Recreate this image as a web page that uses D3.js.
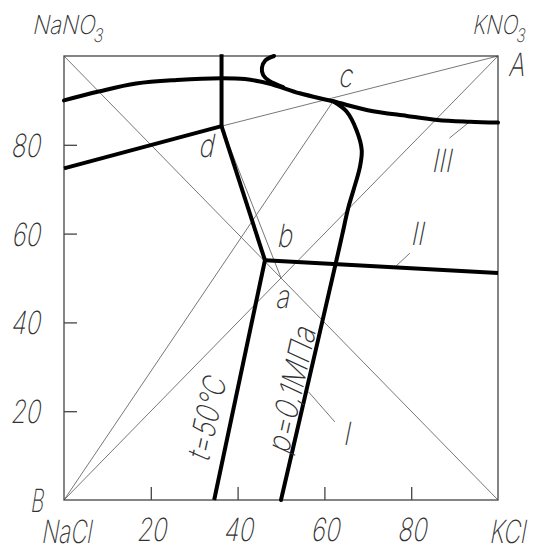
<!DOCTYPE html>
<html><head><meta charset="utf-8">
<script src="https://cdn.jsdelivr.net/npm/d3@7"></script>
<style>body{margin:0;background:#fff}svg{display:block}</style>
</head><body>
<svg id="chart" width="534" height="551"></svg>
<script>
// ---- data (composition %, KCl along x, KNO3 along y) ----
const xTicks = [20, 40, 60, 80];
const yTicks = [20, 40, 60, 80];
const upperCurve = [[0,90],[8,92],[16.6,93.8],[26,94.6],[36.3,95],[41.7,94.8],[47.2,93.8],[54.3,91.6],[62,89.8],[70,87.8],[79,86.5],[86,85.6],[93.5,85.2],[100,85]];
const hookCurve = [[48.4,100],[46.4,99],[45.6,97.3],[45.9,95.7],[47.3,94.4],[50.5,93]];
const verticalLine = [[36.3,100.4],[36.3,84.2]];
const leftLine = [[0,74.7],[36.3,84.2]];
const dbLine = [[36.3,84.2],[46.3,54]];
const rightLine = [[46.3,54],[100,51.1]];
const tempLine = [[46.3,54],[34.6,0]];
const pressCurve = [[62,89.8],[65.1,87.5],[67.4,83.3],[68.6,78.8],[68.2,75.1],[66.7,69.8],[65.5,65.8],[64.1,59.7],[62.8,54.1],[56.4,27],[50,0]];
const thinLines = [
  [[0,100],[100,0]],
  [[0,0],[100,100]],
  [[0,0],[62,89.8]],
  [[36.3,84.2],[100,100]],
  [[36.3,84.2],[50,50]]
];
const pointerLines = [
  [[88.8,81.5],[93.5,85.2]],
  [[76.3,52.5],[79.7,55.6]],
  [[56.3,24.4],[62.4,17.6]]
];
const pointLabels = [
  {t:"a", x:50.2, y:43.2}, {t:"b", x:50.7, y:57.0},
  {t:"c", x:64.7, y:93.1}, {t:"d", x:32.6, y:77.3},
  {t:"III", x:86.9, y:73.9}, {t:"II", x:81.3, y:57.4}, {t:"I", x:65.0, y:12.4}
];
const lineLabels = [
  {t:"t=50°C", x:32.9, y:18.7, w:84},
  {t:"р=0,1МПа", x:52.4, y:25.2, w:128}
];

// ---- layout ----
const svg = d3.select("#chart");
const x = d3.scaleLinear().domain([0,100]).range([64,498]);
const y = d3.scaleLinear().domain([0,100]).range([500,56]);
const FONT = "Inter, 'DejaVu Sans', sans-serif";
const TXT = "#333";
const WT = 200;

const line = d3.line().x(d=>x(d[0])).y(d=>y(d[1]));
const curve = d3.line().x(d=>x(d[0])).y(d=>y(d[1])).curve(d3.curveCatmullRom.alpha(0.5));

// thin construction lines
svg.append("g").selectAll("path").data(thinLines.concat(pointerLines)).join("path")
  .attr("d", line).attr("fill","none").attr("stroke","#777").attr("stroke-width",1);

// frame
svg.append("rect").attr("x",x(0)).attr("y",y(100)).attr("width",x(100)-x(0)).attr("height",y(0)-y(100))
  .attr("fill","none").attr("stroke","#444").attr("stroke-width",1.3);

// axes (inward ticks)
const ax = svg.append("g").attr("transform",`translate(0,${y(0)})`)
  .call(d3.axisBottom(x).tickValues(xTicks).tickSize(-13).tickPadding(0));
const ay = svg.append("g").attr("transform",`translate(${x(0)},0)`)
  .call(d3.axisLeft(y).tickValues(yTicks).tickSize(-13).tickPadding(0));
[ax, ay].forEach(g => { g.select(".domain").remove(); g.selectAll(".tick line").attr("stroke","#444").attr("stroke-width",1.3); });

function styleText(sel, size, sx, tx, ty) {
  sel.attr("x",0).attr("y",0).attr("dy",null)
    .attr("font-family",FONT).attr("font-weight",WT).attr("font-size",size).attr("fill",TXT)
    .attr("transform",`translate(${tx},${ty}) scale(${sx},1) skewX(-14)`);
}
ax.selectAll(".tick text").call(s => styleText(s, 32, 0.76, 0, 41)).attr("text-anchor","middle");
ay.selectAll(".tick text").call(s => styleText(s, 32, 0.76, -24, 11.5)).attr("text-anchor","end");

// thick phase-boundary lines
const thick = svg.append("g").attr("fill","none").attr("stroke","#000").attr("stroke-width",4).attr("stroke-linejoin","round");
[verticalLine, leftLine, dbLine, rightLine, tempLine].forEach(d => thick.append("path").attr("d", line(d)));
[upperCurve, hookCurve, pressCurve].forEach(d => thick.append("path").attr("d", curve(d)).attr("stroke-linecap","round"));

// generic text helper
function label(str, px, py, size, anchor, sx, rot) {
  return svg.append("text").text(str)
    .attr("font-family",FONT).attr("font-weight",WT).attr("font-size",size).attr("fill",TXT)
    .attr("text-anchor",anchor)
    .attr("transform",`translate(${px},${py}) rotate(${rot||0}) scale(${sx},1) skewX(-14)`);
}
pointLabels.forEach(d => label(d.t, x(d.x), y(d.y), 32, "middle", 0.8));
lineLabels.forEach(d => {
  const t = label(d.t, x(d.x), y(d.y), 32, "middle", 1, -77.5).attr("dy","0.36em");
  const w = t.node().getComputedTextLength();
  t.attr("transform",`translate(${x(d.x)},${y(d.y)}) rotate(-77.5) scale(${d.w/w},1) skewX(-14)`);
});

// corner labels
function corner(main, sub, px, py, size, width, anchor) {
  const t = svg.append("text").attr("font-family",FONT).attr("font-weight",WT).attr("font-size",size).attr("fill",TXT).attr("text-anchor",anchor||"start");
  t.append("tspan").text(main);
  if (sub) t.append("tspan").text(sub).attr("font-size",size*0.72).attr("dy",size*0.3);
  const w = t.node().getComputedTextLength();
  t.attr("transform",`translate(${px},${py}) scale(${width/w},1) skewX(-14)`);
}
corner("NaNO","3", 32, 34, 26, 72);
corner("KNO","3", 472, 34, 26, 54);
corner("A", null, 508, 76, 32, 16);
corner("B", null, 30, 512, 32, 13);
corner("NaCl", null, 41, 543, 32, 50);
corner("KCl", null, 489, 543, 32, 36);
</script>
</body></html>
